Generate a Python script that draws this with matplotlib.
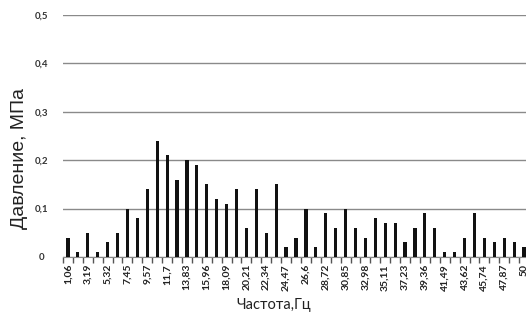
import matplotlib.pyplot as plt
import numpy as np

# frequency categories (Hz) and pressure amplitudes (MPa)
freqs = ["1,06", "2,13", "3,19", "4,26", "5,32", "6,38", "7,45", "8,51", "9,57", "10,64",
         "11,7", "12,77", "13,83", "14,89", "15,96", "17,02", "18,09", "19,15", "20,21", "21,28",
         "22,34", "23,4", "24,47", "25,53", "26,6", "27,66", "28,72", "29,79", "30,85", "31,91",
         "32,98", "34,04", "35,11", "36,17", "37,23", "38,3", "39,36", "40,43", "41,49", "42,55",
         "43,62", "44,68", "45,74", "46,81", "47,87", "48,94", "50"]
pressure = [0.04, 0.01, 0.05, 0.01, 0.03, 0.05, 0.10, 0.08, 0.14, 0.24,
            0.21, 0.16, 0.20, 0.19, 0.15, 0.12, 0.11, 0.14, 0.06, 0.14,
            0.05, 0.15, 0.02, 0.04, 0.10, 0.02, 0.09, 0.06, 0.10, 0.06,
            0.04, 0.08, 0.07, 0.07, 0.03, 0.06, 0.09, 0.06, 0.01, 0.01,
            0.04, 0.09, 0.04, 0.03, 0.04, 0.03, 0.02]
yticks = [0, 0.1, 0.2, 0.3, 0.4, 0.5]
ytick_labels = ["0", "0,1", "0,2", "0,3", "0,4", "0,5"]

fig = plt.figure(figsize=(5.26, 3.22), dpi=100)
ax = fig.add_axes([63 / 526, 65 / 322, 466 / 526, 242 / 322])

x = np.arange(len(freqs))
ax.bar(x, pressure, width=0.32, color='#111111', zorder=3)

ax.set_xlim(-0.5, len(freqs) - 0.5)
ax.set_ylim(0, 0.5)
ax.set_yticks(yticks)
ax.set_yticklabels(ytick_labels, fontsize=7, family='Lato', fontweight='bold')
for t in ax.get_yticklabels():
    t.set_horizontalalignment('center')
ax.tick_params(axis='y', length=0, pad=15.5, colors='#333333')
ax.grid(axis='y', color='#8a8a8a', linewidth=1, zorder=0)

ax.set_xticks(x[::2])
ax.set_xticklabels(freqs[::2], rotation=90, fontsize=7.5, family='Lato',
                   fontweight='bold', color='#222222')
ax.tick_params(axis='x', length=0, pad=5)
ax.set_xticks(np.arange(-0.5, len(freqs)), minor=True)
ax.tick_params(axis='x', which='minor', length=4, width=1, color='#555555')

for s in ['top', 'right', 'left']:
    ax.spines[s].set_visible(False)
ax.spines['bottom'].set_color('#8a8a8a')

fig.text(20 / 526, 0.509, 'Давление, МПа', rotation=90, ha='center', va='center',
         fontsize=14, family='Liberation Sans', color='#222222')
fig.text(274 / 526, 17 / 322, 'Частота,Гц', ha='center', va='center',
         fontsize=10.5, family='Lato', color='#222222')

fig.savefig('out.png', dpi=100)
